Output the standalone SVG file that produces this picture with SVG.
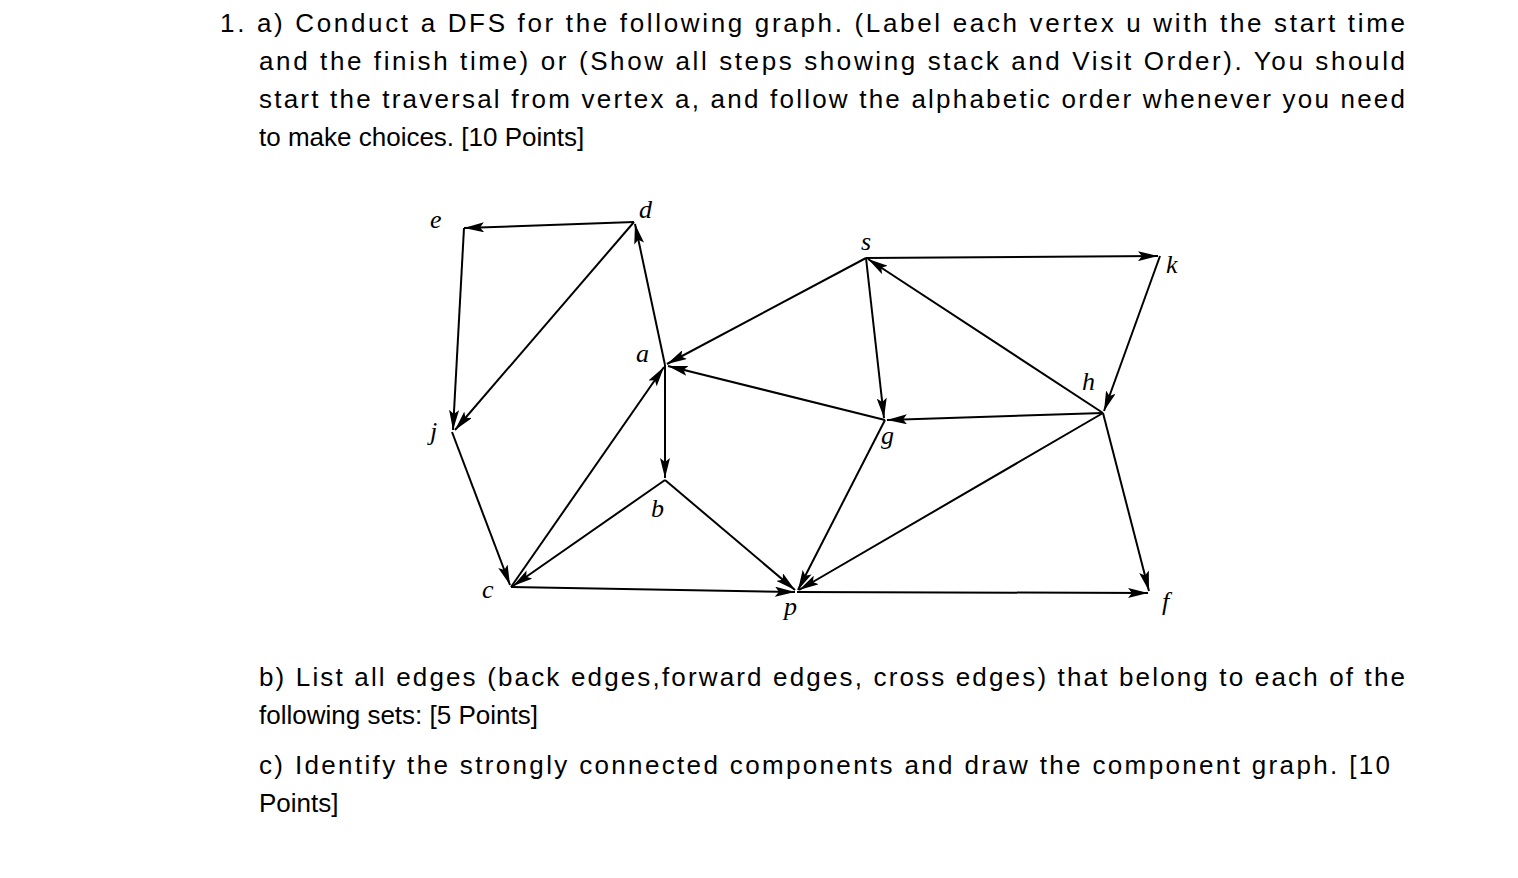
<svg xmlns="http://www.w3.org/2000/svg" width="1518" height="878" viewBox="0 0 1518 878">
<style>
.t{font-family:"Liberation Sans",Arial,sans-serif;font-size:26px;fill:#000}
.l{font-family:"Liberation Serif","Times New Roman",serif;font-style:italic;font-size:26px;fill:#000}
.e{stroke:#000;stroke-width:2;fill:none;marker-end:url(#ah)}
</style>
<defs><marker id="ah" viewBox="0 0 20 10" refX="20" refY="5" markerWidth="20" markerHeight="10" markerUnits="userSpaceOnUse" orient="auto"><path d="M0,0 L20,5 L0,10 L4,5 z" fill="#000"/></marker></defs>
<rect width="1518" height="878" fill="#fff"/>
<g id="text">
<text class="t" x="220" y="32" textLength="1185" lengthAdjust="spacing">1. a) Conduct a DFS for the following graph. (Label each vertex u with the start time</text>
<text class="t" x="259" y="70" textLength="1146" lengthAdjust="spacing">and the finish time) or (Show all steps showing stack and Visit Order).  You should</text>
<text class="t" x="259" y="108" textLength="1146" lengthAdjust="spacing">start the traversal from vertex a, and follow the alphabetic order whenever you need</text>
<text class="t" x="259" y="146">to make choices.  [10 Points]</text>
<text class="t" x="259" y="686" textLength="1146" lengthAdjust="spacing">b) List all edges (back edges,forward edges, cross edges) that belong to each of the</text>
<text class="t" x="259" y="724">following sets:  [5 Points]</text>
<text class="t" x="259" y="774" textLength="1131" lengthAdjust="spacing">c) Identify the strongly connected components and draw the component graph. [10</text>
<text class="t" x="259" y="812">Points]</text>
</g>
<g id="connectors">
<line class="e" x1="634" y1="222" x2="464" y2="228"/>
<line class="e" x1="464" y1="228" x2="453" y2="430"/>
<line class="e" x1="634" y1="222" x2="455" y2="430"/>
<line class="e" x1="665" y1="365" x2="635" y2="224"/>
<line class="e" x1="866" y1="258" x2="667" y2="364"/>
<line class="e" x1="885" y1="420" x2="668" y2="366"/>
<line class="e" x1="665" y1="365" x2="665" y2="478"/>
<line class="e" x1="511" y1="587" x2="664" y2="367"/>
<line class="e" x1="452" y1="432" x2="510" y2="585"/>
<line class="e" x1="665" y1="480" x2="513" y2="586"/>
<line class="e" x1="511" y1="587" x2="795" y2="592"/>
<line class="e" x1="665" y1="480" x2="795" y2="590"/>
<line class="e" x1="885" y1="420" x2="798" y2="590"/>
<line class="e" x1="1103" y1="413" x2="799" y2="590"/>
<line class="e" x1="797" y1="592" x2="1148" y2="593"/>
<line class="e" x1="866" y1="258" x2="1158" y2="256"/>
<line class="e" x1="1160" y1="256" x2="1104" y2="411"/>
<line class="e" x1="1103" y1="413" x2="868" y2="259"/>
<line class="e" x1="866" y1="258" x2="884" y2="418"/>
<line class="e" x1="1103" y1="413" x2="887" y2="420"/>
<line class="e" x1="1103" y1="413" x2="1149" y2="591"/>
</g>
<g id="e"><text class="l" x="430" y="228">e</text></g>
<g id="d"><text class="l" x="639" y="218">d</text></g>
<g id="j"><text class="l" x="430" y="440">j</text></g>
<g id="a"><text class="l" x="636" y="362">a</text></g>
<g id="b"><text class="l" x="651" y="517">b</text></g>
<g id="c"><text class="l" x="482" y="598">c</text></g>
<g id="s"><text class="l" x="861" y="250">s</text></g>
<g id="k"><text class="l" x="1166" y="273">k</text></g>
<g id="h"><text class="l" x="1082" y="390">h</text></g>
<g id="g"><text class="l" x="881" y="444">g</text></g>
<g id="p"><text class="l" x="784" y="615">p</text></g>
<g id="f"><text class="l" x="1162" y="610">f</text></g>
</svg>
